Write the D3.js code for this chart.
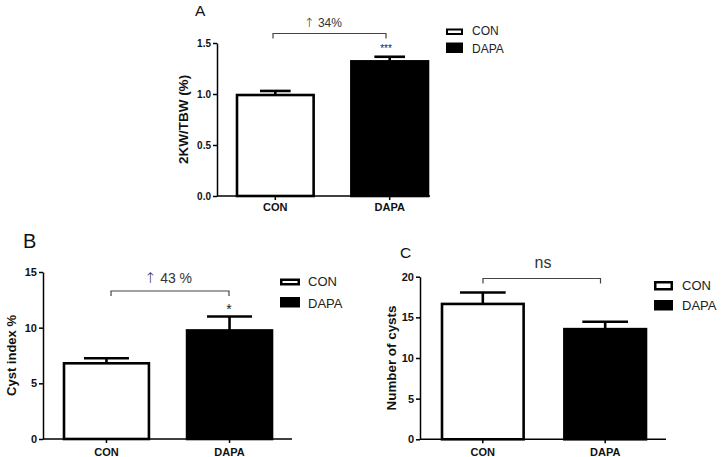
<!DOCTYPE html>
<html>
<head>
<meta charset="utf-8">
<script src="https://cdn.jsdelivr.net/npm/d3@7"></script>
<style>
  html, body { margin: 0; padding: 0; background: #fff; }
  svg { display: block; font-family: "Liberation Sans", Arial, sans-serif; }
</style>
</head>
<body>
<svg id="chart" width="721" height="457"></svg>
<script>
// ---- Data ----
const categories = ["CON", "DAPA"];
const legendLabels = ["CON", "DAPA"];

const kidneyWeightValues = [0.99, 1.32];
const kidneyWeightErrors = [0.04, 0.045];
const kidneyWeightTicks = [0, 0.5, 1.0, 1.5];

const cystIndexValues = [6.8, 9.75];
const cystIndexErrors = [0.45, 1.25];
const cystIndexTicks = [0, 5, 10, 15];

const cystNumberValues = [16.65, 13.55];
const cystNumberErrors = [1.4, 0.9];
const cystNumberTicks = [0, 5, 10, 15, 20];

const panelLabels = ["A", "B", "C"];
const yLabels = ["2KW/TBW (%)", "Cyst index %", "Number of cysts"];
const annotationArrows = ["\u2191", "\u2191", ""];
const annotations = [" 34%", " 43 %", "ns"];
const stars = ["***", "*", ""];

// ---- Drawing ----
const svg = d3.select("#chart");
const fills = ["#ffffff", "#000000"];

const panels = [
  {
    values: kidneyWeightValues, errors: kidneyWeightErrors, ticks: kidneyWeightTicks,
    fmt: d3.format(".1f"), domain: [0, 1.5],
    axisX: 217, axisEnd: 430, yBottom: 196, yTop: 43,
    barRange: [237, 428], padInner: 0.33, capRatio: 0.4,
    tickFont: 10, xFont: 11, xLabelDy: 15, yLabel: yLabels[0], yLabelX: 188, yLabelFont: 13.5,
    panel: panelLabels[0], panelX: 195, panelY: 16, panelFont: 15.5,
    bracket: { y: 33.5, x1: 273, x2: 386, drop: 5 },
    arrow: annotationArrows[0], ann: annotations[0], annX: 323, annY: 27, annFont: 12,
    star: stars[0], starX: 386, starY: 52, starFont: 10,
    legend: { boxX: 446, boxW: 17, con: [28.5, 35], dapa: [42.5, 53], textX: 472, conY: 35, dapaY: 53, font: 12, stroke: 2 }
  },
  {
    values: cystIndexValues, errors: cystIndexErrors, ticks: cystIndexTicks,
    fmt: d3.format("d"), domain: [0, 15],
    axisX: 43, axisEnd: 292, yBottom: 439, yTop: 272,
    barRange: [64, 272], padInner: 0.31, capRatio: 0.53,
    tickFont: 11, xFont: 11, xLabelDy: 17, yLabel: yLabels[1], yLabelX: 16, yLabelFont: 13,
    panel: panelLabels[1], panelX: 23, panelY: 247.5, panelFont: 20,
    bracket: { y: 291, x1: 111, x2: 229, drop: 5 },
    arrow: annotationArrows[1], ann: annotations[1], annX: 168, annY: 283, annFont: 14,
    star: stars[1], starX: 229, starY: 314, starFont: 14,
    legend: { boxX: 280, boxW: 20, con: [278.5, 285.5], dapa: [297, 307.5], textX: 308, conY: 286, dapaY: 307.5, font: 13, stroke: 2.5 }
  },
  {
    values: cystNumberValues, errors: cystNumberErrors, ticks: cystNumberTicks,
    fmt: d3.format("d"), domain: [0, 20],
    axisX: 420, axisEnd: 666, yBottom: 439.3, yTop: 276.7,
    barRange: [442, 646], padInner: 0.333, capRatio: 0.56,
    tickFont: 11, xFont: 11, xLabelDy: 17, yLabel: yLabels[2], yLabelX: 396, yLabelFont: 13.4,
    panel: panelLabels[2], panelX: 400, panelY: 257.5, panelFont: 15.5,
    bracket: { y: 278.5, x1: 483, x2: 600.5, drop: 5 },
    arrow: annotationArrows[2], ann: annotations[2], annX: 543, annY: 268, annFont: 16,
    star: stars[2], starX: 0, starY: 0, starFont: 12,
    legend: { boxX: 654, boxW: 19, con: [281, 290.5], dapa: [300, 310.5], textX: 682, conY: 289.5, dapaY: 309.5, font: 13, stroke: 2.5 }
  }
];

panels.forEach(p => {
  const g = svg.append("g");
  const y = d3.scaleLinear().domain(p.domain).range([p.yBottom, p.yTop]);
  const x = d3.scaleBand().domain(categories).range(p.barRange).paddingInner(p.padInner).paddingOuter(0);

  // bars
  g.selectAll("rect.bar").data(categories).join("rect")
    .attr("class", "bar")
    .attr("x", d => x(d))
    .attr("y", (d, i) => y(p.values[i]))
    .attr("width", x.bandwidth())
    .attr("height", (d, i) => y(0) - y(p.values[i]))
    .attr("fill", (d, i) => fills[i])
    .attr("stroke", "#000")
    .attr("stroke-width", 2.6);

  // error bars (upper only)
  categories.forEach((c, i) => {
    const cx = x(c) + x.bandwidth() / 2;
    const top = y(p.values[i] + p.errors[i]);
    const cw = x.bandwidth() * p.capRatio;
    g.append("line").attr("x1", cx).attr("x2", cx)
      .attr("y1", y(p.values[i])).attr("y2", top)
      .attr("stroke", "#000").attr("stroke-width", 2.6);
    g.append("line").attr("x1", cx - cw / 2).attr("x2", cx + cw / 2)
      .attr("y1", top).attr("y2", top)
      .attr("stroke", "#000").attr("stroke-width", 2.6);
  });

  // y axis
  const yAxis = d3.axisLeft(y).tickValues(p.ticks).tickFormat(p.fmt).tickSize(4).tickSizeOuter(0).tickPadding(2);
  const ya = g.append("g").attr("transform", `translate(${p.axisX},0)`).call(yAxis);
  ya.select(".domain").attr("stroke", "#000").attr("stroke-width", 1.5);
  ya.selectAll(".tick line").attr("stroke", "#000").attr("stroke-width", 1.5);
  ya.selectAll(".tick text").attr("font-size", p.tickFont).attr("font-weight", "bold")
    .attr("fill", "#111").attr("font-family", "'Liberation Sans', Arial, sans-serif");

  // x axis line
  g.append("line").attr("x1", p.axisX).attr("x2", p.axisEnd)
    .attr("y1", p.yBottom).attr("y2", p.yBottom)
    .attr("stroke", "#000").attr("stroke-width", 1.5);
  categories.forEach(c => {
    const cx = x(c) + x.bandwidth() / 2;
    g.append("line").attr("x1", cx).attr("x2", cx)
      .attr("y1", p.yBottom).attr("y2", p.yBottom + 4)
      .attr("stroke", "#000").attr("stroke-width", 1.5);
    g.append("text").attr("x", cx).attr("y", p.yBottom + p.xLabelDy)
      .attr("text-anchor", "middle").attr("font-size", p.xFont).attr("font-weight", "bold")
      .attr("fill", "#111").text(c);
  });

  // y label
  const ymid = (p.yBottom + p.yTop) / 2;
  g.append("text")
    .attr("transform", `translate(${p.yLabelX},${ymid}) rotate(-90)`)
    .attr("text-anchor", "middle").attr("font-size", p.yLabelFont).attr("font-weight", "bold")
    .attr("fill", "#111").text(p.yLabel);

  // panel letter
  g.append("text").attr("x", p.panelX).attr("y", p.panelY)
    .attr("font-size", p.panelFont).attr("fill", "#111").text(p.panel);

  // bracket
  const b = p.bracket;
  g.append("path")
    .attr("d", `M${b.x1},${b.y + b.drop}V${b.y}H${b.x2}V${b.y + b.drop}`)
    .attr("fill", "none").attr("stroke", "#444").attr("stroke-width", 1.2);
  const t = g.append("text").attr("x", p.annX).attr("y", p.annY)
    .attr("text-anchor", "middle").attr("font-size", p.annFont).attr("fill", "#333");
  if (p.arrow) {
    t.append("tspan").attr("font-family", "'DejaVu Sans', sans-serif")
      .attr("font-weight", "200").attr("font-size", p.annFont * 1.05).text(p.arrow);
  }
  t.append("tspan").text(p.ann);

  if (p.star) {
    g.append("text").attr("x", p.starX).attr("y", p.starY)
      .attr("text-anchor", "middle").attr("font-size", p.starFont).attr("fill", "#222").text(p.star);
  }

  // legend
  const L = p.legend;
  const s = L.stroke;
  g.append("rect").attr("x", L.boxX + s / 2).attr("y", L.con[0] + s / 2)
    .attr("width", L.boxW - s).attr("height", L.con[1] - L.con[0] - s)
    .attr("fill", "#fff").attr("stroke", "#000").attr("stroke-width", s);
  g.append("rect").attr("x", L.boxX).attr("y", L.dapa[0])
    .attr("width", L.boxW).attr("height", L.dapa[1] - L.dapa[0])
    .attr("fill", "#000");
  g.append("text").attr("x", L.textX).attr("y", L.conY)
    .attr("font-size", L.font).attr("fill", "#222").text(legendLabels[0]);
  g.append("text").attr("x", L.textX).attr("y", L.dapaY)
    .attr("font-size", L.font).attr("fill", "#222").text(legendLabels[1]);
});
</script>
</body>
</html>
